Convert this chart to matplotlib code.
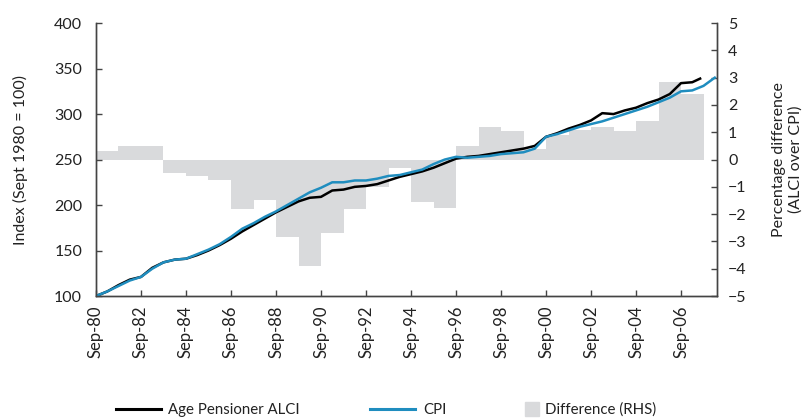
import matplotlib
matplotlib.use("Agg")
import matplotlib.pyplot as plt
from matplotlib.lines import Line2D

plt.rcParams['font.family'] = ['Lato', 'DejaVu Sans']

# years since Sep-80, half-year steps
cpi_t = [i * 0.5 for i in range(56)]
cpi = [100, 105, 111, 117, 121, 130, 137, 140, 141, 146,
       151, 157, 165, 174, 180, 187, 193, 200, 207, 214,
       219, 225, 225, 227, 227, 229, 232, 233, 236, 239,
       245, 250, 253, 252, 253, 254, 256, 257, 258, 262,
       275, 278, 282, 286, 289, 292, 296, 300, 304, 308,
       313, 318, 325, 326, 331, 340]

alci_t = [i * 0.5 for i in range(54)] + [26.85]
alci = [100, 105, 112, 118, 121, 131, 137, 140, 141, 145,
        150, 156, 163, 171, 178, 185, 192, 198, 204, 208,
        209, 216, 217, 220, 221, 223, 227, 231, 234, 237,
        241, 246, 251, 253, 254, 256, 258, 260, 262, 265,
        275, 279, 284, 288, 293, 301, 300, 304, 307, 312,
        316, 322, 334, 335, 339]

# yearly difference, % (ALCI over CPI), bars start Sep-80
diff_start = list(range(27))
diff = [0.3, 0.5, 0.5, -0.5, -0.6, -0.75, -1.8, -1.5, -2.85, -3.9,
        -2.7, -1.8, -1.0, -0.3, -1.55, -1.77, 0.48, 1.2, 1.03, 0.4,
        0.9, 1.1, 1.2, 1.06, 1.4, 2.83, 2.4]

tick_pos = list(range(0, 27, 2))
tick_labels = ['Sep-80', 'Sep-82', 'Sep-84', 'Sep-86', 'Sep-88', 'Sep-90',
               'Sep-92', 'Sep-94', 'Sep-96', 'Sep-98', 'Sep-00', 'Sep-02',
               'Sep-04', 'Sep-06']

blue = '#1f8dbf'
grey = '#d9dadc'
spine_col = '#444444'
text_col = '#222222'

fig = plt.figure(figsize=(8.04, 4.20), dpi=100)
ax = fig.add_axes([0.1194, 0.2952, 0.7724, 0.6498])
ax2 = ax.twinx()

ax2.bar(diff_start, diff, width=1.0, align='edge', color=grey, linewidth=0)
ax2.set_ylim(-5, 5)
ax2.set_yticks(range(-5, 6))

ax.plot(alci_t, alci, color='black', lw=1.8)
ax.plot(cpi_t, cpi, color=blue, lw=1.8)
ax.set_ylim(100, 400)
ax.set_xlim(0, 27.6)
ax.set_yticks(range(100, 401, 50))
ax.set_xticks(tick_pos)
ax.set_xticklabels(tick_labels, rotation=90, fontsize=12)

ax.set_zorder(ax2.get_zorder() + 1)
ax.patch.set_visible(False)

for a in (ax, ax2):
    a.spines['top'].set_visible(False)
    for s in ('left', 'right', 'bottom'):
        a.spines[s].set_color(spine_col)
        a.spines[s].set_linewidth(1.0)
    a.tick_params(direction='in', length=4, width=1, color=spine_col,
                  labelsize=11.5, labelcolor=text_col)
ax.tick_params(axis='x', pad=7, labelsize=12)
ax.tick_params(axis='y', pad=10)
ax2.tick_params(axis='y', pad=8)

ax.set_ylabel('Index (Sept 1980 = 100)', fontsize=11.5, color=text_col, labelpad=19)
ax2.set_ylabel('Percentage difference\n(ALCI over CPI)', fontsize=11.5,
               color=text_col, labelpad=18)

# legend entries placed one by one along the bottom
entries = [
    (Line2D([], [], color='black', lw=2.2), 'Age Pensioner ALCI', 0.127, 3.0),
    (Line2D([], [], color=blue, lw=2.2), 'CPI', 0.444, 3.0),
    (Line2D([], [], color=grey, marker='s', ms=10, ls='none'), 'Difference (RHS)', 0.637, 0.8),
]
for h, lab, x0, hl in entries:
    fig.legend([h], [lab], loc='lower left', bbox_to_anchor=(x0, -0.025),
               frameon=False, fontsize=10.8, handlelength=hl,
               handletextpad=0.5, labelcolor=text_col)

fig.savefig('out.png', dpi=100)
